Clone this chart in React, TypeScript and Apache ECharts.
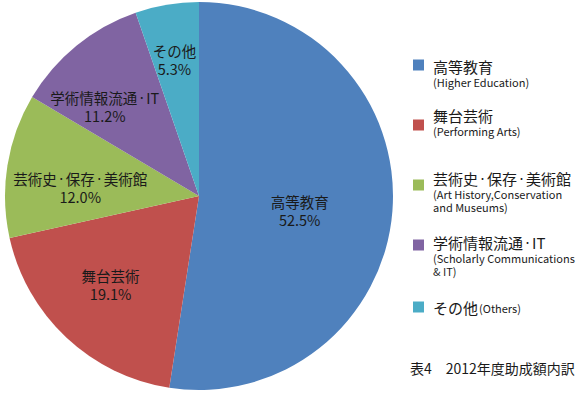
import React, { useEffect, useRef } from "react";
import * as echarts from "echarts";

const categories = ["高等教育", "舞台芸術", "芸術史・保存・美術館", "学術情報流通・IT", "その他"];
const values = [52.5, 19.1, 12.0, 11.2, 5.3];
const colors = ["#4F81BD", "#C0504D", "#9BBB59", "#8064A2", "#4BACC6"];
const legendSubLines = [
  ["(Higher Education)"],
  ["(Performing Arts)"],
  ["(Art History,Conservation", "and Museums)"],
  ["(Scholarly Communications", "& IT)"],
  [],
];
const legendInlineSuffix = ["", "", "", "", "(Others)"];
const caption = "表4　2012年度助成額内訳";

const labelOffsets: [number, number][] = [
  [1, 7],
  [-20, 16],
  [-20, 7],
  [-31, -12],
  [-8, -38],
];
const legendTitleCenterY = [66, 115, 178, 242, 307];
const squareY = [65, 125, 185, 245, 307];

const FONT = "'Noto Sans CJK JP', 'Noto Sans', sans-serif";
const INK = "#1a1a1a";

const narrowDots = (s: string) => s.replace(/・/g, "{d|・}");

export default function App() {
  const ref = useRef<HTMLDivElement>(null);
  useEffect(() => {
    if (!ref.current) return;
    const chart = echarts.init(ref.current, null, { renderer: "svg" });
    const graphics: any[] = [];
    const titleLH = 18;
    categories.forEach((t, i) => {
      graphics.push({
        type: "rect",
        shape: { x: 413, y: squareY[i] - 5.5, width: 11, height: 11 },
        style: { fill: colors[i] },
      });
      let text = `{a|${narrowDots(t).replace(/\{d\|/g, "{ad|")}}`;
      text = narrowDots(t)
        .split(/(\{d\|・\})/)
        .map((seg) => (seg === "{d|・}" ? "{ad|・}" : seg ? `{a|${seg}}` : ""))
        .join("");
      if (legendInlineSuffix[i]) text += `{b|${legendInlineSuffix[i]}}`;
      legendSubLines[i].forEach((s) => {
        text += `\n{s|${s}}`;
      });
      graphics.push({
        type: "text",
        x: 433,
        y: legendTitleCenterY[i] - titleLH / 2,
        style: {
          text,
          verticalAlign: "top",
          rich: {
            a: { fontSize: 15, lineHeight: titleLH, fontFamily: FONT, fill: INK },
            ad: { fontSize: 9, lineHeight: titleLH, fontFamily: FONT, fill: INK },
            b: { fontSize: 11, lineHeight: titleLH, fontFamily: FONT, fill: INK, padding: [1, 0, 0, 1] },
            s: { fontSize: 11, lineHeight: 13.5, fontFamily: FONT, fill: INK },
          },
        },
      });
    });
    graphics.push({
      type: "text",
      x: 410,
      y: 368,
      style: {
        text: caption,
        fontSize: 14,
        fontFamily: FONT,
        fill: INK,
        verticalAlign: "middle",
      },
    });

    chart.setOption({
      animation: false,
      series: [
        {
          type: "pie",
          center: [199, 196],
          radius: [0, 194],
          startAngle: 90,
          clockwise: true,
          silent: true,
          itemStyle: { borderWidth: 0 },
          label: {
            show: true,
            position: "inside",
            fontSize: 14.5,
            lineHeight: 18,
            fontFamily: FONT,
            color: INK,
            formatter: (p: any) => `${narrowDots(p.name)}\n${p.value.toFixed(1)}%`,
            rich: {
              d: { fontSize: 9, lineHeight: 18, fontFamily: FONT, color: INK },
            },
          },
          labelLine: { show: false },
          data: categories.map((c, i) => ({
            name: c,
            value: values[i],
            itemStyle: { color: colors[i] },
            label: { offset: labelOffsets[i] },
          })),
        },
      ],
      graphic: graphics,
    });
    return () => chart.dispose();
  }, []);
  return (
    <div
      ref={ref}
      style={{ position: "fixed", left: 0, top: 0, width: 585, height: 396, background: "#fff" }}
    />
  );
}
